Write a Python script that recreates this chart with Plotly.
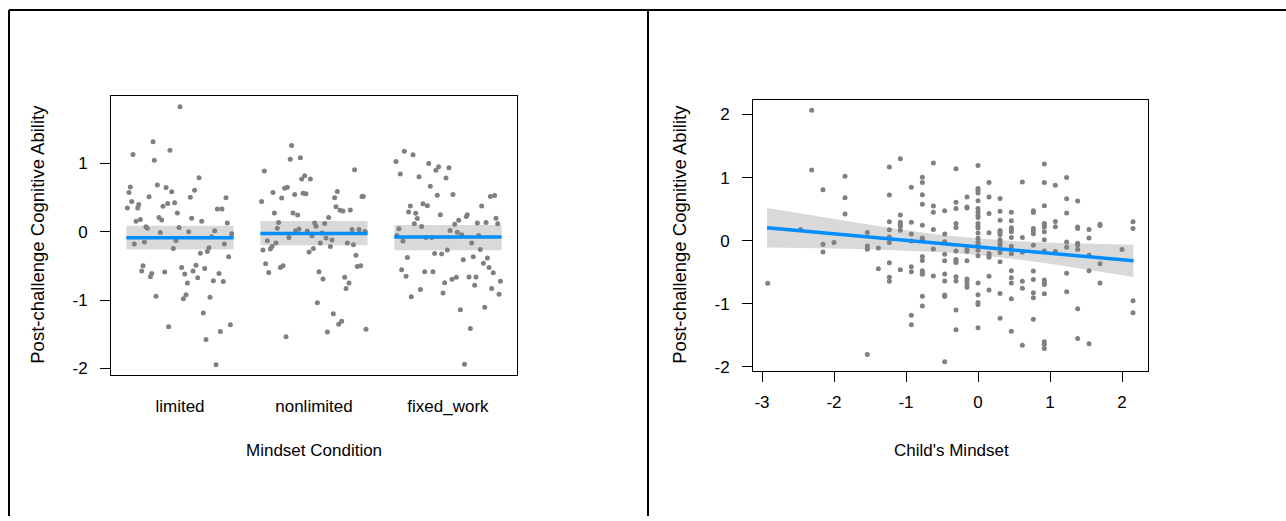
import plotly.graph_objects as go

# ---------------- Left panel data: Mindset Condition ----------------
conditions = ["limited", "nonlimited", "fixed_work"]

limited_jitter = [0.000, -0.201, -0.351, -0.192, -0.075, 0.142, -0.371, -0.381, -0.169, -0.104,
                  -0.062, 0.109, -0.231, 0.077, 0.343, -0.361, -0.393, -0.308, -0.316, -0.127,
                  -0.092, -0.040, -0.020, 0.279, 0.313, -0.328, -0.296, -0.157, -0.137, 0.087,
                  0.162, 0.353, -0.254, -0.244, -0.007, -0.147, 0.065, 0.259, 0.386, 0.236,
                  -0.341, -0.266, -0.030, 0.331, -0.050, 0.216, 0.152, 0.204, 0.363, -0.276,
                  -0.286, -0.211, -0.221, -0.114, 0.012, 0.035, 0.119, 0.097, 0.132, 0.184,
                  0.291, 0.249, 0.323, 0.055, -0.179, 0.045, 0.025, 0.224, 0.174, -0.085,
                  0.376, 0.301, 0.194, 0.269]
limited_ability = [1.831, 1.319, 1.130, 1.048, 1.193, 0.792, 0.657, 0.575, 0.686, 0.647,
                   0.585, 0.609, 0.512, 0.507, 0.498, 0.444, 0.348, 0.401, 0.348, 0.372,
                   0.415, 0.425, 0.275, 0.333, 0.333, 0.155, 0.179, 0.208, 0.174, 0.198,
                   0.155, 0.130, 0.072, 0.053, 0.063, -0.010, 0.000, 0.014, -0.029, -0.072,
                   -0.179, -0.150, -0.126, -0.179, -0.246, -0.232, -0.314, -0.290, -0.367, -0.498,
                   -0.575, -0.609, -0.657, -0.589, -0.522, -0.618, -0.488, -0.575, -0.671, -0.536,
                   -0.609, -0.715, -0.729, -0.749, -0.942, -0.923, -0.981, -0.957, -1.188, -1.391,
                   -1.362, -1.459, -1.575, -1.947]

nonlimited_jitter = [-0.167, -0.177, -0.102, -0.371, 0.303, -0.092, -0.070, -0.027, -0.219, -0.199,
                     -0.306, -0.144, -0.082, -0.060, 0.174, 0.154, 0.358, 0.368, -0.391, -0.241,
                     0.164, 0.194, 0.216, 0.271, -0.296, -0.157, -0.122, 0.109, -0.264, -0.274,
                     0.005, 0.015, 0.080, -0.137, -0.112, -0.050, 0.060, -0.015, 0.284, 0.336,
                     0.381, -0.187, -0.348, -0.381, -0.326, -0.313, -0.284, 0.090, 0.134, 0.047,
                     0.122, 0.249, 0.294, -0.037, -0.005, 0.313, -0.361, -0.338, -0.251, -0.231,
                     0.323, 0.348, 0.037, 0.067, 0.229, 0.261, 0.239, 0.025, 0.144, 0.184,
                     0.206, 0.100, -0.209, 0.388]
nonlimited_ability = [1.261, 1.063, 1.082, 0.889, 0.908, 0.773, 0.821, 0.773, 0.638, 0.652,
                      0.575, 0.546, 0.565, 0.556, 0.589, 0.498, 0.517, 0.517, 0.444, 0.493,
                      0.367, 0.314, 0.304, 0.319, 0.275, 0.275, 0.246, 0.208, 0.135, 0.053,
                      0.130, 0.082, 0.121, 0.014, 0.039, 0.010, -0.019, -0.058, 0.034, 0.034,
                      0.005, -0.082, -0.130, -0.266, -0.251, -0.217, -0.164, -0.092, -0.121, -0.164,
                      -0.217, -0.164, -0.188, -0.295, -0.246, -0.343, -0.469, -0.594, -0.522, -0.498,
                      -0.507, -0.498, -0.585, -0.691, -0.667, -0.749, -0.831, -1.039, -1.198, -1.353,
                      -1.309, -1.468, -1.536, -1.425]

fixed_jitter = [-0.326, -0.261, -0.388, -0.356, -0.144, -0.090, -0.070, 0.007, -0.216, -0.015,
                -0.132, -0.080, 0.037, 0.316, 0.348, -0.281, -0.187, -0.154, 0.251, -0.294,
                -0.241, -0.057, -0.229, -0.251, -0.197, 0.137, 0.144, 0.080, 0.050, 0.015,
                0.070, 0.102, 0.219, 0.284, 0.358, 0.371, -0.366, -0.381, -0.164, -0.122,
                0.229, -0.336, 0.177, 0.241, -0.005, -0.100, -0.047, -0.303, 0.114, 0.189,
                0.264, 0.294, 0.306, 0.338, -0.346, -0.313, -0.174, -0.112, 0.062, 0.030,
                0.157, 0.209, -0.025, 0.391, 0.199, -0.206, -0.274, -0.037, 0.326, 0.381,
                0.092, 0.274, 0.167, 0.123]
fixed_ability = [1.179, 1.126, 1.029, 0.845, 1.000, 0.899, 0.952, 0.937, 0.807, 0.787,
                 0.667, 0.536, 0.546, 0.517, 0.531, 0.377, 0.411, 0.382, 0.377, 0.290,
                 0.271, 0.251, 0.193, 0.116, 0.077, 0.222, 0.251, 0.169, 0.111, 0.019,
                 -0.005, -0.043, 0.130, 0.135, 0.198, 0.116, 0.043, -0.053, -0.082, -0.082,
                 -0.053, -0.135, -0.164, -0.261, -0.266, -0.319, -0.324, -0.377, -0.411, -0.367,
                 -0.459, -0.382, -0.522, -0.599, -0.556, -0.652, -0.585, -0.585, -0.667, -0.696,
                 -0.662, -0.662, -0.744, -0.725, -0.783, -0.845, -0.952, -0.894, -0.831, -0.913,
                 -1.140, -1.106, -1.416, -1.937]

cond_fit = [-0.087, -0.024, -0.077]
cond_lower = [-0.261, -0.198, -0.271]
cond_upper = [0.087, 0.159, 0.101]

# ---------------- Right panel data: Child's Mindset ----------------
mindset_levels = [-2.921, -2.463, -2.310, -2.153, -2.000, -1.847, -1.537, -1.384, -1.231, -1.079,
                  -0.926, -0.773, -0.620, -0.463, -0.306, -0.153, 0.000, 0.153, 0.306, 0.463,
                  0.616, 0.769, 0.921, 1.074, 1.231, 1.384, 1.542, 1.694, 2.000, 2.153]
ability_by_level = [
    [-0.675],
    [0.178],
    [2.067, 1.120],
    [0.806, -0.058, -0.178],
    [-0.031],
    [1.020, 0.680, 0.424],
    [0.131, -0.084, -0.136, -1.805],
    [-0.115, -0.445],
    [1.167, 0.722, 0.298, 0.173, 0.058, -0.031, -0.351, -0.581, -0.644],
    [1.298, 0.408, 0.293, 0.256, 0.230, 0.167, -0.460],
    [0.848, 0.293, 0.105, -0.005, -0.413, -0.492, -1.183, -1.334],
    [1.005, 0.921, 0.727, 0.576, 0.246, 0.042, 0.021, -0.251, -0.314, -0.476, -0.513, -0.534, -0.879, -1.036],
    [1.230, 0.549, 0.450, 0.178, -0.131, -0.560],
    [0.476, 0.105, -0.016, -0.215, -0.319, -0.529, -0.638, -0.863, -0.884, -1.920],
    [1.141, 0.607, 0.508, 0.272, 0.209, -0.162, -0.298, -0.324, -0.345, -0.570, -0.638, -1.099, -1.413],
    [0.691, 0.534, 0.518, -0.141, -0.168, -0.319, -0.607, -0.638, -0.696, -0.738],
    [1.193, 0.827, 0.795, 0.754, 0.633, 0.508, 0.455, 0.403, 0.366, 0.272, 0.230, 0.199, 0.120, 0.037,
     -0.026, -0.052, -0.152, -0.241, -0.670, -0.858, -0.979, -1.010, -1.381],
    [0.921, 0.691, 0.429, 0.126, -0.204, -0.230, -0.262, -0.565, -0.780],
    [0.670, 0.466, 0.324, 0.162, 0.131, 0.099, 0.016, -0.031, -0.068, -0.188, -0.335, -0.837, -1.230],
    [0.450, 0.314, 0.204, 0.173, 0.141, 0.052, -0.089, -0.209, -0.476, -0.586, -0.670, -0.921, -1.434],
    [0.931, 0.052, -0.183, -0.644, -0.754, -1.659],
    [0.476, 0.445, 0.194, 0.162, 0.110, -0.073, -0.481, -0.617, -0.827, -0.905, -1.245],
    [1.214, 0.921, 0.555, 0.272, 0.251, 0.215, 0.141, 0.016, -0.162, -0.623, -0.654, -0.696, -0.842,
     -1.601, -1.643, -1.711],
    [0.879, 0.303, 0.220, -0.173],
    [1.000, 0.665, 0.440, -0.021, -0.105, -0.518, -0.811],
    [0.628, 0.215, 0.194, -0.042, -0.068, -0.141, -1.078, -1.549],
    [0.178, 0.042, -0.230, -0.476, -1.633],
    [0.262, 0.241, -0.366, -0.670],
    [-0.141],
    [0.298, 0.194, -0.952, -1.141],
]

fit_x = [-2.93, -2.5, -2.0, -1.5, -1.0, -0.5, 0.0, 0.5, 1.0, 1.5, 2.16]
fit_y = [0.204, 0.160, 0.109, 0.057, 0.006, -0.046, -0.097, -0.148, -0.200, -0.251, -0.319]
fit_upper = [0.518, 0.436, 0.342, 0.251, 0.167, 0.091, 0.033, -0.007, -0.033, -0.050, -0.063]
fit_lower = [-0.110, -0.116, -0.124, -0.137, -0.155, -0.183, -0.227, -0.289, -0.367, -0.452, -0.575]

y_ticks_left = [-2, -1, 0, 1]
y_ticks_left_text = ["-2", "-1", "0", "1"]
y_ticks_right = [-2, -1, 0, 1, 2]
y_ticks_right_text = ["-2", "-1", "0", "1", "2"]
x_ticks_right = [-3, -2, -1, 0, 1, 2]
x_ticks_right_text = ["-3", "-2", "-1", "0", "1", "2"]

# ---------------- styling ----------------
W, H = 1286, 521
FONT = "Liberation Sans, Arial, sans-serif"
PT_COL = "#808080"
LINE_COL = "#008DFF"
BAND_COL = "#D9D9D9"
BAND_HALF = 0.4
FS = 17
FS_YTITLE = 18.5


def fx(p):
    return p / W


def fy(p):
    return 1 - p / H


fig = go.Figure()

# Left panel: bands and fit lines
for i, c in enumerate(conditions):
    pos = i + 1
    x0, x1 = pos - BAND_HALF, pos + BAND_HALF
    fig.add_trace(go.Scatter(
        x=[x0, x1, x1, x0, x0],
        y=[cond_lower[i], cond_lower[i], cond_upper[i], cond_upper[i], cond_lower[i]],
        fill="toself", fillcolor=BAND_COL, line=dict(width=0), mode="lines",
        hoverinfo="skip", showlegend=False, xaxis="x", yaxis="y"))

groups = [(limited_jitter, limited_ability), (nonlimited_jitter, nonlimited_ability),
          (fixed_jitter, fixed_ability)]
for i, (jit, ab) in enumerate(groups):
    fig.add_trace(go.Scatter(
        x=[i + 1 + j for j in jit], y=ab, mode="markers",
        marker=dict(color=PT_COL, size=5, line=dict(width=0)),
        showlegend=False, xaxis="x", yaxis="y", name=conditions[i]))

for i, c in enumerate(conditions):
    pos = i + 1
    fig.add_trace(go.Scatter(
        x=[pos - BAND_HALF, pos + BAND_HALF], y=[cond_fit[i], cond_fit[i]],
        mode="lines", line=dict(color=LINE_COL, width=3.5),
        showlegend=False, xaxis="x", yaxis="y"))

# Right panel
fig.add_trace(go.Scatter(
    x=fit_x + fit_x[::-1], y=fit_upper + fit_lower[::-1],
    fill="toself", fillcolor=BAND_COL, line=dict(width=0), mode="lines",
    hoverinfo="skip", showlegend=False, xaxis="x2", yaxis="y2"))

mx, my = [], []
for lv, vals in zip(mindset_levels, ability_by_level):
    for v in vals:
        mx.append(lv)
        my.append(v)
fig.add_trace(go.Scatter(
    x=mx, y=my, mode="markers",
    marker=dict(color=PT_COL, size=5, line=dict(width=0)),
    showlegend=False, xaxis="x2", yaxis="y2"))

fig.add_trace(go.Scatter(
    x=fit_x, y=fit_y, mode="lines", line=dict(color=LINE_COL, width=3.5),
    showlegend=False, xaxis="x2", yaxis="y2"))

axis_common = dict(showgrid=False, zeroline=False, showline=True, mirror=True,
                   linecolor="black", linewidth=1, ticklen=10,
                   tickcolor="black", tickwidth=1,
                   tickfont=dict(family=FONT, size=FS, color="black"))

fig.update_layout(
    width=W, height=H,
    margin=dict(l=0, r=0, t=0, b=0),
    paper_bgcolor="white", plot_bgcolor="white",
    showlegend=False,
    xaxis=dict(domain=[fx(111), fx(517)], range=[0.485, 3.515], ticks="",
               tickvals=[1, 2, 3], ticktext=conditions, ticklabelstandoff=15, **axis_common),
    yaxis=dict(domain=[fy(379), fy(97)], range=[-2.101, 1.986], ticks="outside",
               tickvals=y_ticks_left, ticktext=y_ticks_left_text, ticklabelstandoff=9, **axis_common),
    xaxis2=dict(domain=[fx(753), fx(1148)], range=[-3.125, 2.361], anchor="y2", ticks="outside",
                tickvals=x_ticks_right, ticktext=x_ticks_right_text, ticklabelstandoff=5, **axis_common),
    yaxis2=dict(domain=[fy(375), fy(101)], range=[-2.072, 2.229], anchor="x2", ticks="outside",
                tickvals=y_ticks_right, ticktext=y_ticks_right_text, ticklabelstandoff=9, **axis_common),
)

anns = [
    dict(text="Post-challenge Cognitive Ability", x=fx(38), y=fy(237), textangle=-90, size=FS_YTITLE),
    dict(text="Mindset Condition", x=fx(314), y=fy(455), textangle=0, size=FS),
    dict(text="Post-challenge Cognitive Ability", x=fx(680), y=fy(236), textangle=-90, size=FS_YTITLE),
    dict(text="Child's Mindset", x=fx(951), y=fy(455), textangle=0, size=FS),
]
for a in anns:
    fig.add_annotation(xref="paper", yref="paper", showarrow=False,
                       xanchor="center", yanchor="middle",
                       font=dict(family=FONT, size=a["size"], color="black"),
                       text=a["text"], x=a["x"], y=a["y"], textangle=a["textangle"])

# outer frame lines
border = dict(color="black", width=2)
fig.add_shape(type="line", xref="paper", yref="paper", x0=fx(9), x1=1, y0=fy(10), y1=fy(10), line=border)
fig.add_shape(type="line", xref="paper", yref="paper", x0=fx(9), x1=fx(9), y0=0, y1=fy(10), line=border)
fig.add_shape(type="line", xref="paper", yref="paper", x0=fx(648), x1=fx(648), y0=0, y1=fy(10), line=border)

fig.write_html("out.html", config={"displayModeBar": False},
               post_script="document.body.style.margin='0';document.body.style.overflow='hidden';")
